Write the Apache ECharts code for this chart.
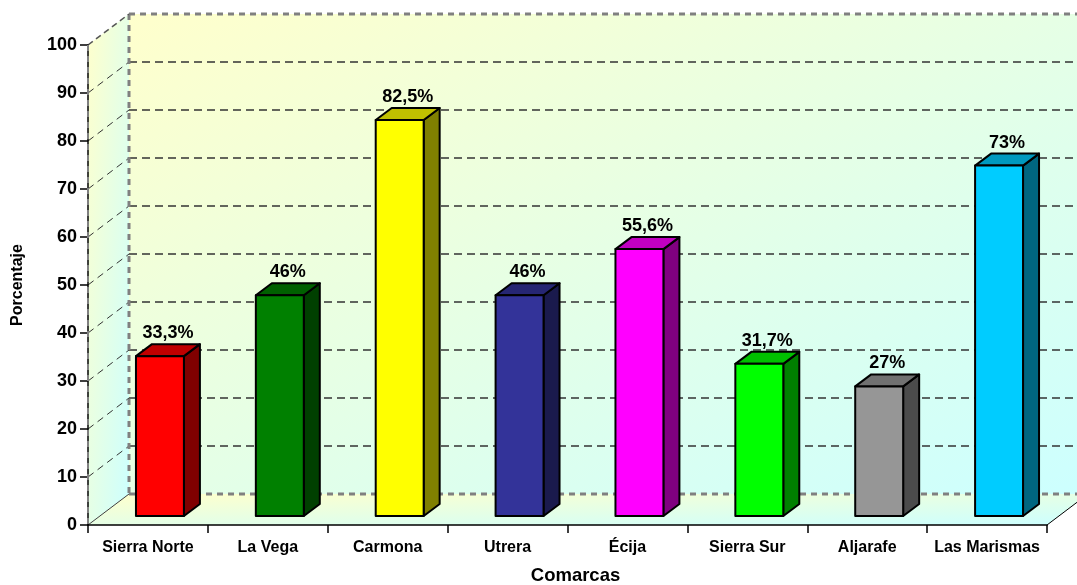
<!DOCTYPE html>
<html>
<head>
<meta charset="utf-8">
<title>Porcentaje por comarca</title>
<script src="https://cdn.jsdelivr.net/npm/echarts@6/dist/echarts.min.js"></script>
<style>
  html, body { margin: 0; padding: 0; background: #ffffff; overflow: hidden; }
  #chart { width: 1077px; height: 585px; }
</style>
</head>
<body>
<div id="chart"></div>
<script>
// ---- data ----
const comarcas = ['Sierra Norte', 'La Vega', 'Carmona', 'Utrera', 'Écija', 'Sierra Sur', 'Aljarafe', 'Las Marismas'];
const porcentajes = [33.3, 46, 82.5, 46, 55.6, 31.7, 27, 73];
const yTicks = [0, 10, 20, 30, 40, 50, 60, 70, 80, 90, 100];

// ---- bar palette (front, side, top faces) ----
const frontColors = ['#FF0000', '#008000', '#FFFF00', '#333399', '#FF00FF', '#00FF00', '#969696', '#00CCFF'];
const sideColors  = ['#800000', '#004000', '#808000', '#1A1A4D', '#800080', '#008000', '#4B4B4B', '#006680'];
const topColors   = ['#C00000', '#006000', '#C0C000', '#262673', '#C000C0', '#00C000', '#717171', '#0099BF'];

// ---- pseudo-3D projection settings (pixels) ----
const WALL_DX = 41, WALL_DY = -31;       // depth of the back wall
const BAR_SHIFT_X = 12, BAR_SHIFT_Y = -9; // bars sit a little behind the front plane
const BAR_DX = 16, BAR_DY = -12;          // bar depth
const BAR_WIDTH_RATIO = 0.4;

const FONT = '"Liberation Sans", Arial, Helvetica, sans-serif';

function formatPct(v) {
  return String(v).replace('.', ',') + '%';
}

// diagonal two-tone fill for a wall plane (top-left yellow -> bottom-right cyan)
function planeGradient(x, y, w, h) {
  const gx = 1 / (2 * w), gy = 1 / (2 * h);
  const n = gx * gx + gy * gy;
  return {
    type: 'linear', global: true,
    x: x, y: y, x2: x + gx / n, y2: y + gy / n,
    colorStops: [
      { offset: 0, color: '#FFFFCC' },
      { offset: 1, color: '#CCFFFF' }
    ]
  };
}

function seg(x1, y1, x2, y2, style) {
  return { type: 'line', shape: { x1: x1, y1: y1, x2: x2, y2: y2 }, style: style };
}

const gridDash = { stroke: '#333333', lineWidth: 1.4, lineDash: [8, 5] };
const frameDash = { stroke: '#808080', lineWidth: 3, lineDash: [6, 5] };

// walls, floor and gridlines
function renderWalls(params, api) {
  const cs = params.coordSys;
  const L = cs.x, R = cs.x + cs.width, T = cs.y, B = cs.y + cs.height;
  const bx = L + WALL_DX, by = T + WALL_DY, bb = B + WALL_DY;
  const children = [];

  children.push({ type: 'rect', shape: { x: bx, y: by, width: R - L, height: B - T },
    style: { fill: planeGradient(bx, by, R - L, B - T) } });
  children.push({ type: 'polygon', shape: { points: [[L, T], [bx, by], [bx, bb], [L, B]] },
    style: { fill: planeGradient(L, by, WALL_DX, B - by) } });
  children.push({ type: 'polygon', shape: { points: [[L, B], [bx, bb], [R + WALL_DX, bb], [R, B]] },
    style: { fill: planeGradient(L, bb, R - L + WALL_DX, -WALL_DY) } });

  yTicks.slice(1, -1).forEach(function (v) {
    const y = api.coord([0, v])[1];
    children.push(seg(bx, y + WALL_DY, R + WALL_DX, y + WALL_DY, gridDash));
    children.push(seg(L, y, bx, y + WALL_DY, { stroke: '#333333', lineWidth: 1, lineDash: [7, 5] }));
  });

  // wall frame
  children.push(seg(bx, by, R + WALL_DX, by, frameDash));
  children.push(seg(bx, by, bx, bb, frameDash));
  children.push(seg(bx, bb, R + WALL_DX, bb, frameDash));
  children.push(seg(L, T, bx, by, { stroke: '#555555', lineWidth: 1.5, lineDash: [6, 4] }));
  children.push(seg(L, B, bx, bb, { stroke: '#404040', lineWidth: 1 }));

  return { type: 'group', children: children };
}

// front edges drawn over the axes
function renderEdges(params, api) {
  const cs = params.coordSys;
  const L = cs.x, R = cs.x + cs.width, T = cs.y, B = cs.y + cs.height;
  return {
    type: 'group',
    children: [
      seg(L, T, L, B, { stroke: '#808080', lineWidth: 2, lineDash: [6, 5] }),
      seg(R, B, R + WALL_DX, B + WALL_DY, { stroke: '#000000', lineWidth: 1 })
    ]
  };
}

// 3D column with value label
function renderBar(params, api) {
  const i = api.value(0), v = api.value(1);
  const base = api.coord([i, 0]);
  const top = api.coord([i, v]);
  const w = api.size([1, 0])[0] * BAR_WIDTH_RATIO;
  const x0 = base[0] + BAR_SHIFT_X - w / 2, x1 = x0 + w;
  const yb = base[1] + BAR_SHIFT_Y, yt = top[1] + BAR_SHIFT_Y;
  const edge = { stroke: '#000000', lineWidth: 2, lineJoin: 'round' };
  return {
    type: 'group',
    children: [
      { type: 'polygon', shape: { points: [[x1, yb], [x1 + BAR_DX, yb + BAR_DY], [x1 + BAR_DX, yt + BAR_DY], [x1, yt]] },
        style: Object.assign({ fill: sideColors[i] }, edge) },
      { type: 'polygon', shape: { points: [[x0, yt], [x0 + BAR_DX, yt + BAR_DY], [x1 + BAR_DX, yt + BAR_DY], [x1, yt]] },
        style: Object.assign({ fill: topColors[i] }, edge) },
      { type: 'rect', shape: { x: x0, y: yt, width: w, height: yb - yt },
        style: Object.assign({ fill: frontColors[i] }, edge) },
      { type: 'text',
        style: { text: formatPct(v), x: x0 + w / 2 + BAR_DX / 2, y: yt + BAR_DY - 11,
                 align: 'center', verticalAlign: 'middle',
                 font: 'bold 18px ' + FONT, fill: '#000000' } }
    ]
  };
}

const chart = echarts.init(document.getElementById('chart'), null, { renderer: 'canvas', width: 1077, height: 585 });
chart.setOption({
  animation: false,
  backgroundColor: '#ffffff',
  grid: { left: 88, top: 45, width: 959, height: 480, containLabel: false, outerBoundsMode: 'none' },
  xAxis: {
    type: 'category',
    data: comarcas,
    z: 3,
    name: 'Comarcas',
    nameLocation: 'middle',
    nameGap: 41,
    nameTextStyle: { fontFamily: FONT, fontWeight: 'bold', fontSize: 18.5, color: '#000', padding: [0, 0, 0, 16] },
    axisLine: { show: true, lineStyle: { color: '#000', width: 1.5 } },
    axisTick: { show: true, alignWithLabel: false, length: 8, lineStyle: { color: '#000', width: 1.5 } },
    axisLabel: { interval: 0, margin: 15, fontFamily: FONT, fontWeight: 'bold', fontSize: 16, color: '#000' },
    splitLine: { show: false }
  },
  yAxis: {
    type: 'value',
    min: yTicks[0],
    max: yTicks[yTicks.length - 1],
    interval: yTicks[1] - yTicks[0],
    z: 3,
    name: 'Porcentaje',
    nameLocation: 'middle',
    nameGap: 62,
    nameTextStyle: { fontFamily: FONT, fontWeight: 'bold', fontSize: 16, color: '#000' },
    axisLine: { show: true, lineStyle: { color: '#000', width: 1.5 } },
    axisTick: { show: true, length: 8, lineStyle: { color: '#000', width: 1.5 } },
    axisLabel: { margin: 11, fontFamily: FONT, fontWeight: 'bold', fontSize: 18, color: '#000' },
    splitLine: { show: false }
  },
  series: [
    { type: 'custom', name: 'paredes', z: 1, silent: true, data: [[0, 0]],
      encode: { x: 0, y: 1 }, renderItem: renderWalls },
    { type: 'custom', name: 'Porcentaje', z: 4, clip: false,
      data: porcentajes.map(function (v, i) { return [i, v]; }),
      encode: { x: 0, y: 1 }, renderItem: renderBar },
    { type: 'custom', name: 'aristas', z: 5, silent: true, data: [[0, 0]],
      encode: { x: 0, y: 1 }, renderItem: renderEdges }
  ]
});
</script>
</body>
</html>
